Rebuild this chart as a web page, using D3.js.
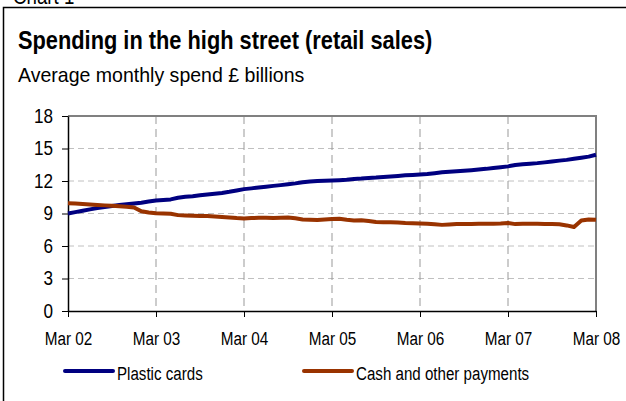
<!DOCTYPE html>
<html>
<head>
<meta charset="utf-8">
<script src="https://cdn.jsdelivr.net/npm/d3@7"></script>
<style>
  html, body { margin: 0; padding: 0; background: #fff; }
  svg { display: block; }
  text { font-family: "Liberation Sans", Arial, sans-serif; fill: #000; }
</style>
</head>
<body>
<svg id="chart" width="626" height="401"></svg>
<script>
// Monthly observations, Mar 2002 to Mar 2008 (73 months), £ billions
const plasticCards = [
  9.00, 9.13, 9.26, 9.38, 9.50, 9.60, 9.70, 9.78, 9.85, 9.92, 10.00, 10.10,
  10.20, 10.25, 10.30, 10.45, 10.55, 10.60, 10.68, 10.75, 10.82, 10.90, 11.00, 11.12,
  11.25, 11.32, 11.40, 11.47, 11.55, 11.62, 11.70, 11.78, 11.88, 11.95, 12.00, 12.02,
  12.05, 12.08, 12.12, 12.18, 12.22, 12.28, 12.32, 12.38, 12.42, 12.47, 12.52, 12.56,
  12.60, 12.65, 12.72, 12.80, 12.85, 12.90, 12.95, 13.00, 13.06, 13.12, 13.20, 13.27,
  13.35, 13.48, 13.55, 13.60, 13.65, 13.72, 13.80, 13.88, 13.95, 14.05, 14.15, 14.25,
  14.42
];
const cashOther = [
  9.95, 9.92, 9.88, 9.83, 9.79, 9.75, 9.71, 9.67, 9.62, 9.55, 9.20, 9.10,
  9.02, 9.00, 8.98, 8.85, 8.82, 8.80, 8.78, 8.76, 8.72, 8.68, 8.64, 8.58,
  8.54, 8.58, 8.60, 8.60, 8.58, 8.60, 8.63, 8.56, 8.45, 8.42, 8.40, 8.45,
  8.50, 8.52, 8.42, 8.36, 8.38, 8.30, 8.22, 8.20, 8.20, 8.16, 8.12, 8.10,
  8.08, 8.05, 8.00, 7.95, 7.98, 8.02, 8.04, 8.03, 8.05, 8.06, 8.06, 8.08,
  8.12, 8.02, 8.05, 8.06, 8.05, 8.04, 8.03, 8.00, 7.90, 7.75, 8.35, 8.45,
  8.42
];
const xTickLabels = ["Mar 02", "Mar 03", "Mar 04", "Mar 05", "Mar 06", "Mar 07", "Mar 08"];
const yTicks = [0, 3, 6, 9, 12, 15, 18];
const seriesNames = ["Plastic cards", "Cash and other payments"];
const seriesColors = ["#000080", "#993300"];

const svg = d3.select("#chart");

// horizontally condense text to mimic a narrow typeface
function condense(sel, factor) {
  sel.each(function () {
    const w = this.getComputedTextLength();
    d3.select(this).attr("textLength", w * factor).attr("lengthAdjust", "spacingAndGlyphs");
  });
}

// outer frame (runs off the right and bottom edges)
svg.append("rect")
  .attr("x", 3.5).attr("y", 7.5)
  .attr("width", 640).attr("height", 420)
  .attr("fill", "none").attr("stroke", "#000").attr("stroke-width", 1.5);

// cropped heading above the frame
svg.append("text")
  .attr("x", 13).attr("y", 4)
  .style("font-size", "22px")
  .text("Chart 1")
  .call(condense, 0.85);

svg.append("text")
  .attr("x", 18).attr("y", 49)
  .style("font-size", "25px").style("font-weight", "bold")
  .text("Spending in the high street (retail sales)")
  .call(condense, 0.872);

svg.append("text")
  .attr("x", 18).attr("y", 82)
  .style("font-size", "21px")
  .text("Average monthly spend £ billions")
  .call(condense, 0.93);

const plot = { left: 68, right: 596, top: 116, bottom: 311 };

const x = d3.scaleLinear().domain([0, 72]).range([plot.left, plot.right]);
const y = d3.scaleLinear().domain([0, 18]).range([plot.bottom, plot.top]);
const yearTicks = xTickLabels.map((d, i) => i * 12);

// gridlines
const grid = svg.append("g");
grid.selectAll("line.h")
  .data(yTicks.filter(v => v > 0 && v < 18))
  .join("line")
  .attr("x1", plot.left).attr("x2", plot.right)
  .attr("y1", d => y(d)).attr("y2", d => y(d))
  .attr("stroke", "#c0c0c0").attr("stroke-width", 1)
  .attr("stroke-dasharray", "6,4");
grid.selectAll("line.v")
  .data(yearTicks.slice(1, -1))
  .join("line")
  .attr("x1", d => x(d)).attr("x2", d => x(d))
  .attr("y1", plot.top).attr("y2", plot.bottom)
  .attr("stroke", "#999").attr("stroke-width", 1)
  .attr("stroke-dasharray", "8,5");

// top and right plot border
svg.append("path")
  .attr("d", `M${plot.left},${plot.top}H${plot.right}V${plot.bottom}`)
  .attr("fill", "none").attr("stroke", "#808080").attr("stroke-width", 2);

// axes
const yAxis = svg.append("g")
  .attr("transform", `translate(${plot.left},0)`)
  .call(d3.axisLeft(y).tickValues(yTicks).tickSize(6).tickPadding(9).tickSizeOuter(0));
const xAxis = svg.append("g")
  .attr("transform", `translate(0,${plot.bottom})`)
  .call(d3.axisBottom(x).tickValues(yearTicks).tickFormat((d, i) => xTickLabels[i])
    .tickSize(6).tickPadding(15).tickSizeOuter(0));
[yAxis, xAxis].forEach(g => {
  g.select(".domain").attr("stroke", "#000").attr("stroke-width", 1.5);
  g.selectAll(".tick line").attr("stroke", "#000").attr("stroke-width", 1);
  g.selectAll(".tick text")
    .style("font-family", "'Liberation Sans', Arial, sans-serif")
    .attr("fill", "#000");
});
yAxis.selectAll(".tick text").style("font-size", "20px").call(condense, 0.855);
xAxis.selectAll(".tick text").style("font-size", "18px").call(condense, 0.85);

// series lines
const line = d3.line().x((d, i) => x(i)).y(d => y(d));
[plasticCards, cashOther].forEach((vals, k) => {
  svg.append("path")
    .datum(vals)
    .attr("d", line)
    .attr("fill", "none")
    .attr("stroke", seriesColors[k])
    .attr("stroke-width", 4)
    .attr("stroke-linejoin", "round");
});

// legend
const legendX = [63, 302];
seriesNames.forEach((name, k) => {
  const g = svg.append("g").attr("transform", `translate(${legendX[k]},371)`);
  g.append("line")
    .attr("x1", 2).attr("x2", 50).attr("y1", 0).attr("y2", 0)
    .attr("stroke", seriesColors[k]).attr("stroke-width", 4)
    .attr("stroke-linecap", "round");
  g.append("text")
    .attr("x", 54).attr("y", 9)
    .style("font-size", "18px")
    .text(name)
    .call(condense, 0.84);
});
</script>
</body>
</html>
